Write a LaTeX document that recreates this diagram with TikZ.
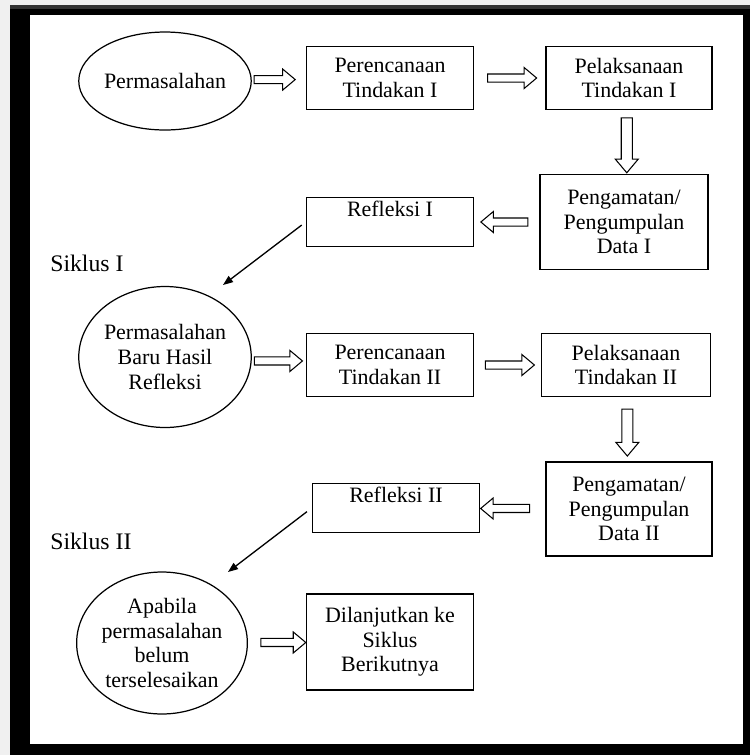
\documentclass[tikz,border=0pt]{standalone}
\usepackage{fontspec}
\setmainfont{Liberation Serif}
\usetikzlibrary{shapes.geometric,shapes.arrows,arrows.meta}
\begin{document}
\begin{tikzpicture}[x=0.02cm,y=-0.02cm,
  font=\fontsize{12.5}{14}\selectfont,
  kotak/.style={draw,line width=0.9pt,minimum width=3.34cm,inner sep=0pt,align=center},
  elips/.style={ellipse,draw,line width=0.7pt,inner sep=0pt,align=center},
  panah/.style={single arrow,draw,fill=white,line width=0.6pt,inner sep=0.07cm,
    single arrow head extend=0.13cm,single arrow tip angle=80},
  panahbawah/.style={panah,shape border rotate=270,inner sep=0.1cm,single arrow head extend=0.12cm},
  panahkiri/.style={panah,shape border rotate=180},
  garis/.style={-{Triangle[length=0.2cm,width=0.15cm]},line width=0.75pt},
  siklus/.style={anchor=base west,inner sep=0pt,font=\fontsize{13.5}{16}\selectfont}]
\useasboundingbox (0,0) rectangle (750,755);
\fill[black!6] (0,0) rectangle (750,755);
\fill[black] (10,5) rectangle (750,755);
\fill[black!80] (10,5) rectangle (750,9);
\fill[white] (30,15) rectangle (743,744);
\node[elips,minimum width=3.42cm,minimum height=1.96cm] (perm1) at (165,81) {Permasalahan};
\node[kotak,minimum height=1.26cm] (plan1) at (390,78) {Perencanaan\\Tindakan I};
\node[kotak,minimum height=1.26cm,minimum width=3.32cm] (act1) at (629,78) {Pelaksanaan\\Tindakan I};
\node[kotak,minimum height=1.9cm,minimum width=3.36cm] (obs1) at (624,222) {Pengamatan/\\Pengumpulan\\Data I};
\node[kotak,text height=0.38cm,text depth=0.6cm] (refl1) at (390,222) {Refleksi I};
\node[siklus] (siklus1) at (50,271) {Siklus I};
\node[elips,minimum width=3.32cm,minimum height=2.82cm] (perm2) at (165,357) {Permasalahan\\Baru Hasil\\Refleksi};
\node[kotak,minimum height=1.26cm] (plan2) at (390,365) {Perencanaan\\Tindakan II};
\node[kotak,minimum height=1.26cm,minimum width=3.38cm] (act2) at (626,365) {Pelaksanaan\\Tindakan II};
\node[kotak,minimum height=1.88cm,minimum width=3.32cm] (obs2) at (629,509) {Pengamatan/\\Pengumpulan\\Data II};
\node[kotak,text height=0.38cm,text depth=0.6cm] (refl2) at (396,508) {Refleksi II};
\node[siklus] (siklus2) at (50,549) {Siklus II};
\node[elips,minimum width=3.36cm,minimum height=2.84cm] (perm3) at (162,643) {Apabila\\permasalahan\\belum\\terselesaikan};
\node[kotak,minimum height=1.92cm] (next) at (390,642) {Dilanjutkan ke\\Siklus\\Berikutnya};
\path (perm1) -- node[panah,pos=0.38,minimum height=0.82cm] {} (plan1);
\path (plan1) -- node[panah,minimum height=0.98cm] {} (act1);
\path (act1) -- node[panahbawah,minimum height=1.1cm] {} (obs1);
\path (obs1) -- node[panahkiri,minimum height=0.94cm] {} (refl1);
\path (perm2) -- node[panah,pos=0.45,minimum height=0.96cm] {} (plan2);
\path (plan2) -- node[panah,minimum height=0.98cm] {} (act2);
\path (act2) -- node[panahbawah,minimum height=0.94cm] {} (obs2);
\path (obs2) -- node[panahkiri,pos=0.58,minimum height=0.98cm] {} (refl2);
\path (perm3) -- node[panah,pos=0.57,minimum height=0.9cm] {} (next);
\coordinate (tip1) at (223,285);
\coordinate (tip2) at (228,572);
\draw[garis,shorten <=0.1cm] (refl1.west) -- (tip1);
\draw[garis,shorten <=0.12cm] (refl2.west) -- (tip2);
\end{tikzpicture}
\end{document}
